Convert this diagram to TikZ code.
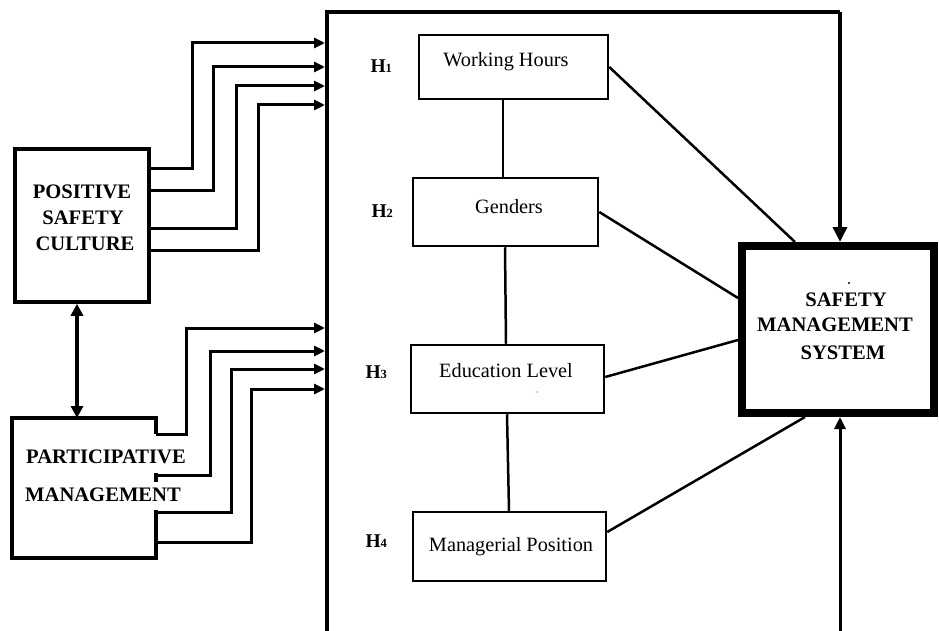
\documentclass[tikz,border=0pt]{standalone}
\usepackage{fontspec}
\setmainfont{Liberation Serif}
\usetikzlibrary{arrows.meta}
\begin{document}
\begin{tikzpicture}[x=1pt,y=-1pt,
  varbox/.style={draw, line width=2.5pt, rectangle, inner sep=0pt},
  vartext/.style={anchor=base, font=\fontsize{20.3}{24}\selectfont},
  boldtext/.style={anchor=base, font=\fontsize{20.6}{24}\selectfont\bfseries},
  hlab/.style={anchor=base west, font=\fontsize{19.5}{22}\selectfont\bfseries},
  arr/.style={line width=3pt, -{Triangle[length=11pt,width=10pt]}},
  link/.style={line width=2.5pt},
  frame/.style={line width=4pt}]
\useasboundingbox (0,0) rectangle (939,631);

% outer frame
\coordinate (ftop) at (327,12);
\coordinate (fbot) at (327,631);
\coordinate (ftr) at (840,12);
\coordinate (fbr) at (840,631);

% result box
\node[draw, line width=8pt, rectangle, minimum width=192pt, minimum height=167pt, inner sep=0pt] (SMS) at (838,329.5) {};
\node[boldtext] (smsA) at (846,306) {SAFETY};
\node[boldtext] (smsB) at (835,331) {MANAGEMENT};
\node[boldtext] (smsC) at (843,359) {SYSTEM};
\fill (849,283) circle (1.2pt);

% variable boxes
\node[varbox, minimum width=189pt, minimum height=64pt] (WH) at (513.5,67) {};
\node[varbox, minimum width=185pt, minimum height=68pt] (G) at (505.5,212) {};
\node[varbox, minimum width=193pt, minimum height=68pt] (E) at (507.5,379) {};
\node[varbox, minimum width=193pt, minimum height=69pt] (M) at (509.5,546.5) {};
\node[vartext] (WHt) at (506,67) {Working Hours};
\node[vartext] (Gt) at (509,213) {Genders};
\node[vartext] (Et) at (506,377) {Education Level};
\node[vartext] (Mt) at (511,551) {Managerial Position};
\fill[blue!40] (537,392) circle (0.8pt);

% hypothesis labels
\node[hlab] (H1) at (367,73) {H{\fontsize{12.5}{12}\selectfont 1}};
\node[hlab] (H2) at (368,218) {H{\fontsize{12.5}{12}\selectfont 2}};
\node[hlab] (H3) at (362,378) {H{\fontsize{12.5}{12}\selectfont 3}};
\node[hlab] (H4) at (362,547) {H{\fontsize{12.5}{12}\selectfont 4}};

% left boxes
\node[draw, line width=3.5pt, rectangle, minimum width=134pt, minimum height=153pt, inner sep=0pt] (PSC) at (82,225.5) {};
\node[boldtext] (pscA) at (82,198) {POSITIVE};
\node[boldtext] (pscB) at (83,224) {SAFETY};
\node[boldtext] (pscC) at (85,250) {CULTURE};

\node[rectangle, minimum width=144pt, minimum height=140pt, inner sep=0pt, outer sep=0pt] (PM) at (84,488) {};
\draw[line width=3.5pt] (PM.east |- 0,434) -- (PM.north east) -- (PM.north west) -- (PM.south west) -- (PM.south east) -- (PM.east |- 0,510);
\draw[line width=3.5pt] (PM.east |- 0,473) -- (PM.east |- 0,482);
\node[boldtext] (pmA) at (106,463) {PARTICIPATIVE};
\node[boldtext] (pmB) at (103,501) {MANAGEMENT};

% frame lines
\draw[frame] (fbot) -- (ftop) -- (ftr);
\draw[line width=3.5pt, -{Triangle[length=15pt,width=14pt]}] (ftr) -- ([xshift=2pt]SMS.north);
\draw[line width=3pt, -{Triangle[length=12pt,width=11pt]}] (fbr) -- ([xshift=2pt]SMS.south);

% inputs on frame
\coordinate (in1) at (325,43);
\coordinate (in2) at (325,67);
\coordinate (in3) at (325,86);
\coordinate (in4) at (325,105);
\coordinate (in5) at (325,328);
\coordinate (in6) at (325,351);
\coordinate (in7) at (325,369);
\coordinate (in8) at (325,389);

\draw[arr] ([yshift=56.5pt]PSC.east) -- ++(42,0) |- (in1);
\draw[arr] ([yshift=34.5pt]PSC.east) -- ++(63,0) |- (in2);
\draw[arr] ([yshift=-2.5pt]PSC.east) -- ++(86,0) |- (in3);
\draw[arr] ([yshift=-24.5pt]PSC.east) -- ++(108,0) |- (in4);

\draw[arr] ([yshift=54pt]PM.east) -- ++(30,0) |- (in5);
\draw[arr] ([yshift=13pt]PM.east) -- ++(54,0) |- (in6);
\draw[arr] ([yshift=-24pt]PM.east) -- ++(75,0) |- (in7);
\draw[arr] ([yshift=-54pt]PM.east) -- ++(95,0) |- (in8);

\draw[line width=3.5pt, {Triangle[length=12pt,width=12pt]}-{Triangle[length=12pt,width=12pt]}] ([xshift=-5pt]PSC.south) -- ([xshift=-7pt]PM.north);

% chain links
\draw[link] ([xshift=-10.5pt]WH.south) -- ([xshift=-2.5pt]G.north);
\draw[link] ([xshift=-0.5pt]G.south) -- ([xshift=-1.5pt]E.north);
\draw[link] ([xshift=-0.5pt]E.south) -- ([xshift=-0.5pt]M.north);

% links to result
\draw[link] (WH.east) -- ([xshift=-43pt]SMS.north);
\draw[link] (G.east) -- ([yshift=31.5pt]SMS.west);
\draw[link] ([yshift=2pt]E.east) -- ([yshift=-10.5pt]SMS.west);
\draw[link] ([yshift=14.5pt]M.east) -- ([xshift=-33pt]SMS.south);
\end{tikzpicture}
\end{document}
